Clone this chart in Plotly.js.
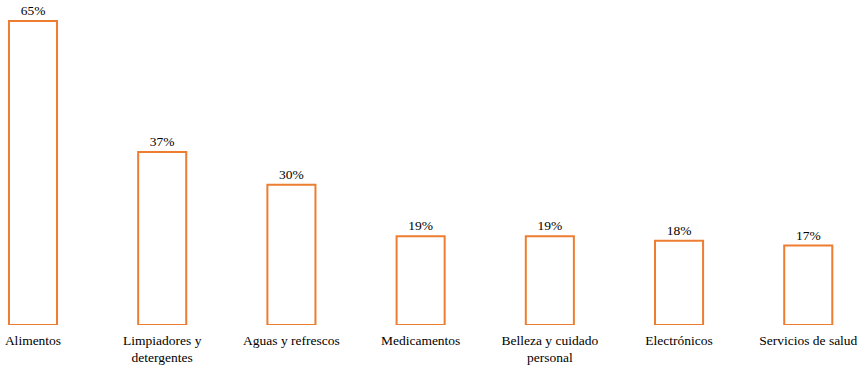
<!DOCTYPE html>
<html>
<head>
<meta charset="utf-8">
<script src="https://cdn.plot.ly/plotly-3.0.1.min.js"></script>
<style>
  html, body { margin: 0; padding: 0; background: #ffffff; }
  #chart { width: 858px; height: 366px; }
</style>
</head>
<body>
<div id="chart"></div>
<script>
// Purchase categories and share of respondents (%)
const categories = [
  "Alimentos",
  "Limpiadores y<br>detergentes",
  "Aguas y refrescos",
  "Medicamentos",
  "Belleza y cuidado<br>personal",
  "Electrónicos",
  "Servicios de salud"
];
const shares = [65, 37, 30, 19, 19, 18, 17];
const shareLabels = ["65%", "37%", "30%", "19%", "19%", "18%", "17%"];

const orange = "#ED7D31";
const serif = "Liberation Serif";

const trace = {
  type: "bar",
  x: categories.map((_, i) => i),
  y: shares,
  text: shareLabels,
  textposition: "outside",
  cliponaxis: false,
  textfont: { family: serif, size: 13.5, color: "#000000" },
  width: 0.372,
  marker: {
    color: "rgba(255,255,255,0)",
    line: { color: orange, width: 2 }
  },
  hoverinfo: "none"
};

const layout = {
  width: 858,
  height: 366,
  margin: { l: 0, r: 0, t: 0, b: 41 },
  paper_bgcolor: "#ffffff",
  plot_bgcolor: "#ffffff",
  showlegend: false,
  font: { family: serif, size: 13.5, color: "#000000" },
  xaxis: {
    range: [-0.2554, 6.385],
    tickmode: "array",
    tickvals: categories.map((_, i) => i),
    ticktext: categories,
    showgrid: false,
    zeroline: false,
    showline: false,
    ticks: "",
    ticklabelstandoff: 5,
    tickfont: { family: serif, size: 13.5, color: "#000000" },
    fixedrange: true
  },
  yaxis: {
    range: [0, 69.5],
    visible: false,
    showgrid: false,
    zeroline: false,
    fixedrange: true
  }
};

Plotly.newPlot("chart", [trace], layout, { displayModeBar: false, staticPlot: true });
</script>
</body>
</html>
